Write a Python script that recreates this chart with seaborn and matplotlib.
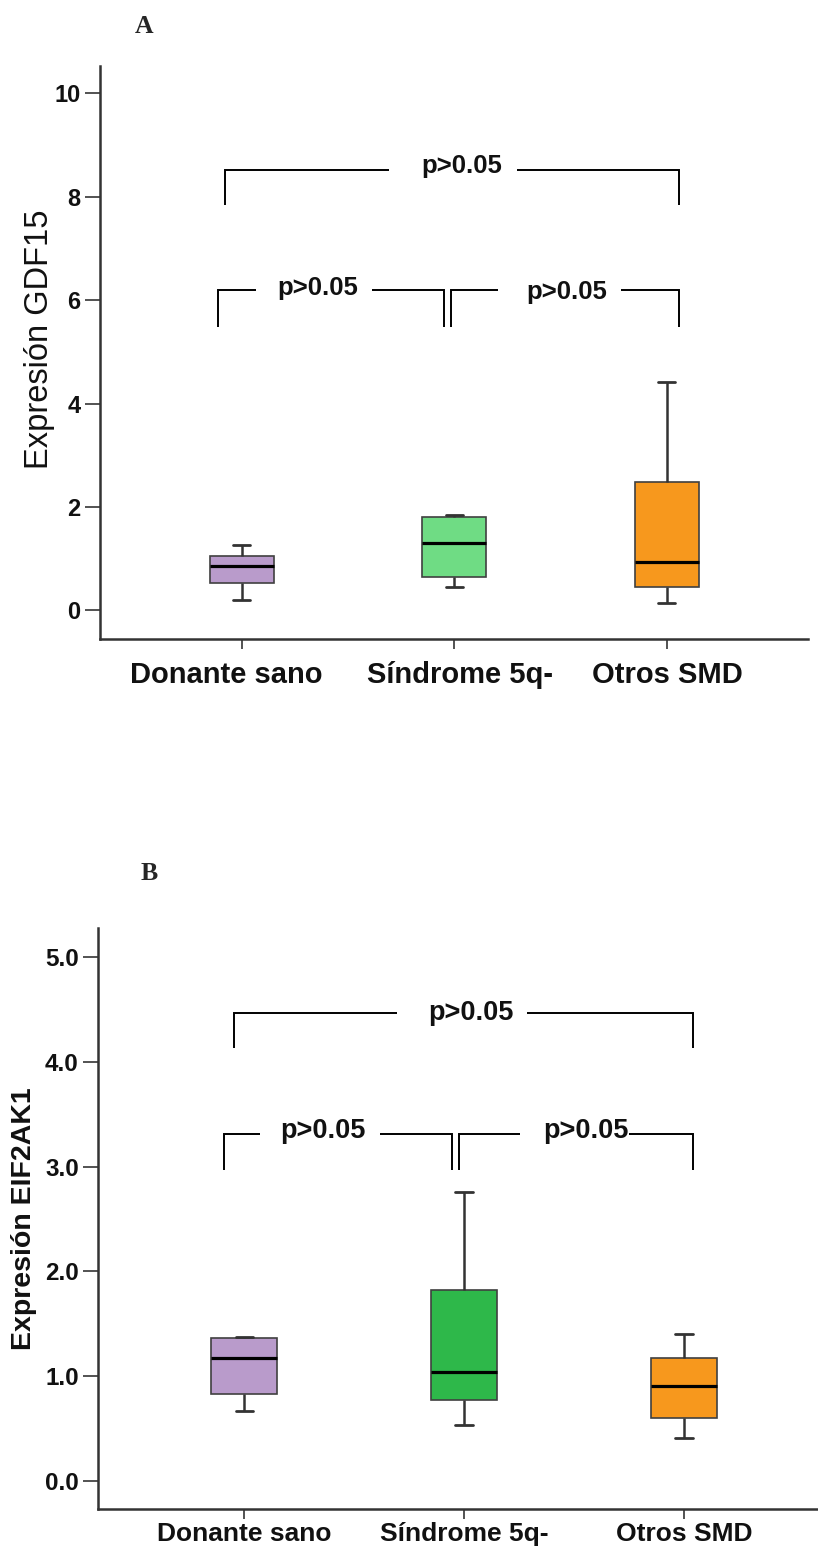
import numpy as np
import pandas as pd
import matplotlib
matplotlib.use("Agg")
import matplotlib.pyplot as plt
import matplotlib.transforms as mtransforms
import seaborn as sns

# ---------------- data ----------------
categories = ["Donante sano", "Síndrome 5q-", "Otros SMD"]

# five-number summaries: [min, Q1, median, Q3, max]
gdf15_donante = [0.19, 0.53, 0.86, 1.05, 1.26]
gdf15_sindrome = [0.445, 0.65, 1.31, 1.81, 1.84]
gdf15_otros = [0.15, 0.46, 0.93, 2.48, 4.41]

eif2ak1_donante = [0.67, 0.83, 1.17, 1.366, 1.375]
eif2ak1_sindrome = [0.535, 0.77, 1.04, 1.82, 2.76]
eif2ak1_otros = [0.405, 0.60, 0.90, 1.17, 1.40]

yticks_a = [0, 2, 4, 6, 8, 10]
ytick_labels_a = ["0", "2", "4", "6", "8", "10"]
yticks_b = [0, 1, 2, 3, 4, 5]
ytick_labels_b = ["0.0", "1.0", "2.0", "3.0", "4.0", "5.0"]

ylabel_a = "Expresión GDF15"
ylabel_b = "Expresión EIF2AK1"
p_label = "p>0.05"

colors_a = ["#B99BCB", "#6FDC84", "#F7981D"]
colors_b = ["#B99BCB", "#2EB84A", "#F7981D"]

# ---------------- style ----------------
sns.set_style("ticks")
plt.rcParams["font.family"] = ["Liberation Sans", "DejaVu Sans"]

fig = plt.figure(figsize=(8.18, 15.53), dpi=100)
W, H = 818, 1553


def axes_px(left, top, right, bottom):
    return fig.add_axes([left / W, 1 - bottom / H, (right - left) / W, (bottom - top) / H])


ax_a = axes_px(100, 66, 808, 639)
ax_b = axes_px(98.3, 928.3, 818, 1509.3)


def make_df(groups):
    rows = []
    for cat, vals in zip(categories, groups):
        for v in vals:
            rows.append({"grupo": cat, "valor": v})
    return pd.DataFrame(rows)


def draw_box(ax, df, colors):
    kws = dict(
        data=df, x="grupo", y="valor", hue="grupo", order=categories,
        hue_order=categories, palette=dict(zip(categories, colors)),
        saturation=1, width=0.30, whis=(0, 100), legend=False,
        linecolor="#404040", linewidth=1.2, ax=ax,
        medianprops={"color": "black", "linewidth": 2.3},
        whiskerprops={"color": "#333333", "linewidth": 1.8},
        capprops={"color": "#333333", "linewidth": 2.0},
    )
    try:
        sns.boxplot(capwidths=0.08, **kws)
    except TypeError:
        sns.boxplot(**kws)


draw_box(ax_a, make_df([gdf15_donante, gdf15_sindrome, gdf15_otros]), colors_a)
draw_box(ax_b, make_df([eif2ak1_donante, eif2ak1_sindrome, eif2ak1_otros]), colors_b)


def style_axes(ax, xlim, ylim, yticks, ylabels, xfs, yfs):
    ax.set_xlim(*xlim)
    ax.set_ylim(*ylim)
    ax.set_yticks(yticks)
    ax.set_yticklabels(ylabels, fontsize=yfs, fontweight="bold", color="#111111")
    ax.set_xticks(range(len(categories)))
    ax.set_xticklabels(categories, fontsize=xfs, fontweight="bold", color="#111111")
    ax.set_xlabel("")
    for s in ["top", "right"]:
        ax.spines[s].set_visible(False)
    for s in ["left", "bottom"]:
        ax.spines[s].set_linewidth(1.8)
        ax.spines[s].set_color("#333333")
    ax.tick_params(axis="y", length=11, width=1.3, color="#444444", pad=3)
    ax.tick_params(axis="x", length=7.5, width=1.3, color="#444444")
    ax.grid(False)


style_axes(ax_a, (-0.667, 2.665), (-0.555, 10.53), yticks_a, ytick_labels_a, 21, 17)
ax_a.tick_params(axis="x", pad=8.5)
style_axes(ax_b, (-0.665, 2.61), (-0.273, 5.276), yticks_b, ytick_labels_b, 19, 17.5)
ax_b.tick_params(axis="x", pad=1.5)

# small horizontal offsets of panel A category labels, as in the original
for lab, dx_px in zip(ax_a.get_xticklabels(), [-15, 6, 1]):
    lab.set_transform(lab.get_transform() +
                      mtransforms.ScaledTranslation(dx_px / 100, 0, fig.dpi_scale_trans))

ax_a.set_ylabel(ylabel_a, fontsize=23.5)
ax_a.yaxis.set_label_coords(-0.086, 0.523)
ax_b.set_ylabel(ylabel_b, fontsize=20.5, fontweight="bold")
ax_b.yaxis.set_label_coords(-0.103, 0.50)
for ax in (ax_a, ax_b):
    ax.yaxis.label.set_va("center")
    ax.yaxis.label.set_ha("center")
    ax.yaxis.label.set_color("#111111")


# ---------------- significance brackets ----------------
def draw_bracket(ax, x1, x2, y, leg, gl, gr, tx, dy, fs):
    kw = dict(color="black", lw=1.4, solid_capstyle="butt", solid_joinstyle="miter")
    ax.plot([x1, x1, gl], [leg, y, y], **kw)
    ax.plot([gr, x2, x2], [y, y, leg], **kw)
    ax.text(tx, y + dy, p_label, ha="center", va="center", fontsize=fs,
            fontweight="bold", color="#111111")


brackets_a = [
    (-0.078, 2.06, 8.52, 7.84, 0.693, 1.294, 1.035, 0.07),
    (-0.11, 0.953, 6.20, 5.48, 0.068, 0.613, 0.357, 0.03),
    (0.987, 2.06, 6.20, 5.48, 1.208, 1.784, 1.53, -0.05),
]
brackets_b = [
    (-0.047, 2.04, 4.47, 4.13, 0.696, 1.286, 1.03, 0.0),
    (-0.094, 0.943, 3.31, 2.97, 0.072, 0.615, 0.355, 0.026),
    (0.976, 2.04, 3.31, 2.97, 1.255, 1.75, 1.555, 0.026),
]
for b in brackets_a:
    draw_bracket(ax_a, *b, fs=18.5)
for b in brackets_b:
    draw_bracket(ax_b, *b, fs=19.5)

# ---------------- panel letters ----------------
fig.text(144 / W, 1 - 26.5 / H, "A", fontsize=18.5, fontweight="bold",
         family=["Liberation Serif", "DejaVu Serif"], ha="center", va="center")
fig.text(149 / W, 1 - 873.6 / H, "B", fontsize=18.5, fontweight="bold",
         family=["Liberation Serif", "DejaVu Serif"], ha="center", va="center")

fig.savefig("out.png", dpi=100, facecolor="white")
